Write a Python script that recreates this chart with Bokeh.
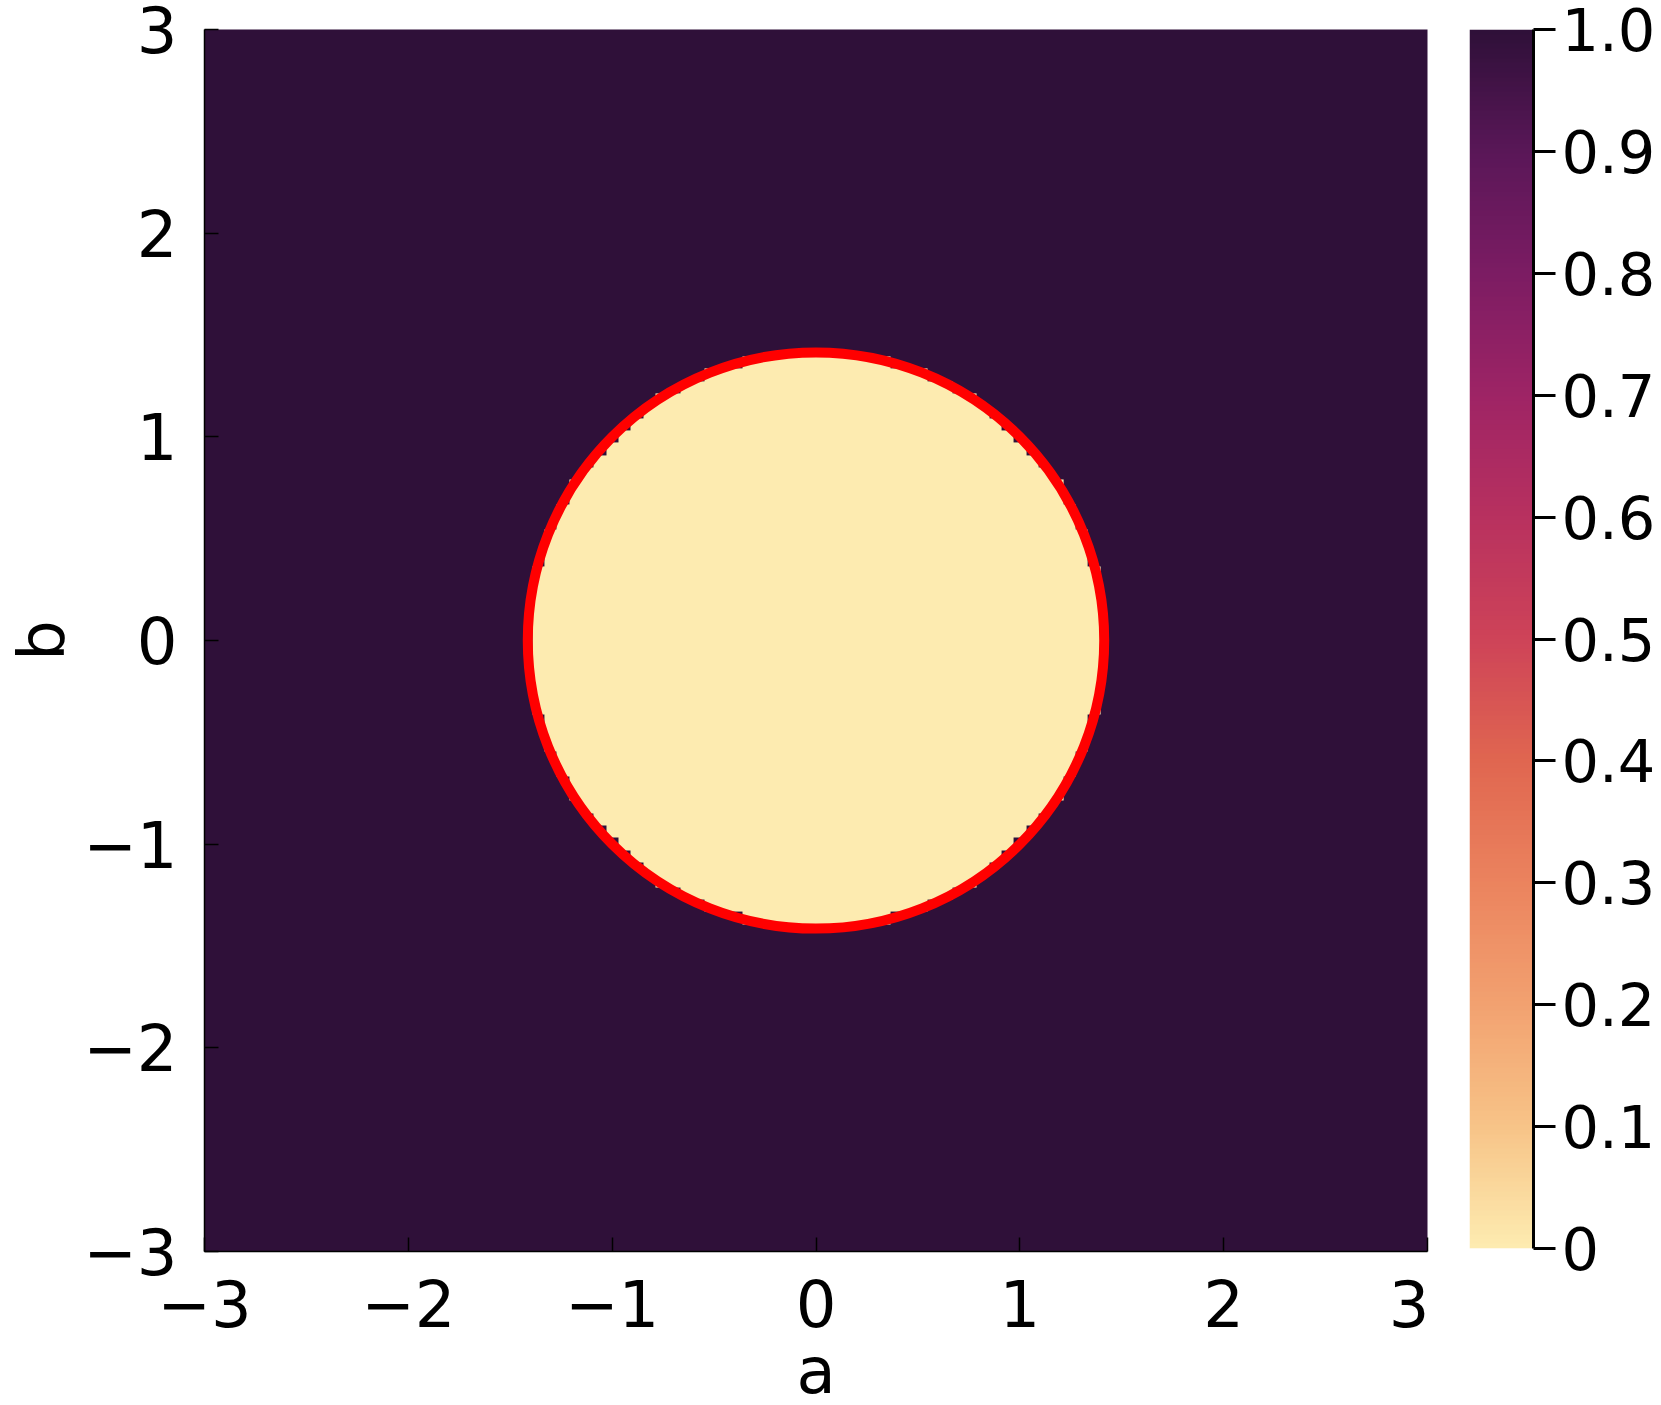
import numpy as np
from bokeh.plotting import figure
from bokeh.models import LinearColorMapper, FixedTicker, Range1d
from bokeh.layouts import row
from bokeh.embed import file_html
from bokeh.resources import INLINE

# ---------------- data ----------------
a_grid = np.linspace(-3, 3, 100)          # heatmap column centres (a)
b_grid = np.linspace(-3, 3, 100)          # heatmap row centres (b)
inside_value = 0.0                         # value inside the boundary
outside_value = 1.0                        # value outside the boundary
boundary_radius = 1.414                    # radius of the red boundary circle
boundary_center = (0.0, 0.0)

axis_ticks = [-3, -2, -1, 0, 1, 2, 3]
axis_tick_labels = ["−3", "−2", "−1", "0", "1", "2", "3"]
cbar_ticks = [0.0, 0.1, 0.2, 0.3, 0.4, 0.5, 0.6, 0.7, 0.8, 0.9, 1.0]
cbar_tick_labels = ["0", "0.1", "0.2", "0.3", "0.4", "0.5", "0.6", "0.7", "0.8", "0.9", "1.0"]
x_label = "a"
y_label = "b"

# ---------------- colour map (cmocean "matter"-like) ----------------
anchors = ["#FDEBB0", "#F7C387", "#F2A170", "#EB835E", "#E06650", "#CE4358",
           "#B8315F", "#9E2465", "#7C1C63", "#5A1758", "#2F1039"]
def hex2rgb(h):
    return np.array([int(h[i:i + 2], 16) for i in (1, 3, 5)], dtype=float)
arr = np.array([hex2rgb(h) for h in anchors])
pos = np.linspace(0, 1, len(anchors))
tt = np.linspace(0, 1, 256)
palette = ["#%02x%02x%02x" % tuple(int(round(np.interp(t, pos, arr[:, k]))) for k in range(3)) for t in tt]
mapper = LinearColorMapper(palette=palette, low=0, high=1)

FONT = "DejaVu Sans"

# ---------------- layout (pixels) ----------------
FRAME_L, FRAME_T, FRAME_W, FRAME_H = 204, 29, 1223, 1222
TOTAL_H = 1405

# ---------------- main heatmap ----------------
A, B = np.meshgrid(a_grid, b_grid)
Z = np.where((A - boundary_center[0]) ** 2 + (B - boundary_center[1]) ** 2 <= boundary_radius ** 2,
             inside_value, outside_value)
step = a_grid[1] - a_grid[0]

p = figure(output_backend="svg", toolbar_location=None,
           x_range=Range1d(-3, 3), y_range=Range1d(-3, 3),
           frame_width=FRAME_W, frame_height=FRAME_H,
           min_border_left=FRAME_L, min_border_right=2, min_border_top=FRAME_T,
           min_border_bottom=TOTAL_H - FRAME_T - FRAME_H,
           x_axis_label=x_label, y_axis_label=y_label)
p.image(image=[Z], x=a_grid[0] - step / 2, y=b_grid[0] - step / 2,
        dw=step * len(a_grid), dh=step * len(b_grid), color_mapper=mapper)
p.circle(x=[boundary_center[0]], y=[boundary_center[1]], radius=boundary_radius,
         fill_alpha=0, line_color="#FF0000", line_width=10)

p.grid.visible = False
p.outline_line_color = None
for ax in (p.xaxis[0], p.yaxis[0]):
    ax.ticker = FixedTicker(ticks=axis_ticks)
    ax.major_label_overrides = {t: l for t, l in zip(axis_ticks, axis_tick_labels)}
    ax.major_label_text_font = FONT
    ax.major_label_text_font_size = "64px"
    ax.major_label_text_color = "black"
    ax.axis_label_text_font = FONT
    ax.axis_label_text_font_size = "64px"
    ax.axis_label_text_font_style = "normal"
    ax.axis_label_text_color = "black"
    ax.major_tick_in = 14
    ax.major_tick_out = 0
    ax.minor_tick_line_color = None
    ax.axis_line_color = "black"
    ax.axis_line_width = 1.5
    ax.major_tick_line_color = "black"
    ax.major_tick_line_width = 1.5
p.xaxis[0].major_label_standoff = 28
p.xaxis[0].axis_label_standoff = 4
p.yaxis[0].major_label_standoff = 27
p.yaxis[0].axis_label_standoff = 1

# ---------------- colour bar ----------------
CB_T, CB_H = 29, 1219
cb = figure(output_backend="svg", toolbar_location=None,
            x_range=Range1d(0, 1), y_range=Range1d(0, 1),
            frame_width=64, frame_height=CB_H,
            min_border_left=40, min_border_right=0, min_border_top=CB_T,
            min_border_bottom=TOTAL_H - CB_T - CB_H,
            x_axis_location=None, y_axis_location="right")
grad = np.linspace(0, 1, 256).reshape(256, 1)
cb.image(image=[grad], x=0, y=0, dw=1, dh=1, color_mapper=mapper)
cb.grid.visible = False
cb.outline_line_color = None
ay = cb.yaxis[0]
ay.ticker = FixedTicker(ticks=cbar_ticks)
ay.major_label_overrides = {t: l for t, l in zip(cbar_ticks, cbar_tick_labels)}
ay.major_label_text_font = FONT
ay.major_label_text_font_size = "59px"
ay.major_label_text_color = "black"
ay.major_tick_in = 0
ay.major_tick_out = 22
ay.major_label_standoff = 6
ay.minor_tick_line_color = None
ay.axis_line_color = "black"
ay.axis_line_width = 3
ay.major_tick_line_color = "black"
ay.major_tick_line_width = 3

layout = row(p, cb, spacing=0)
open("out.html", "w").write(file_html(layout, INLINE))
